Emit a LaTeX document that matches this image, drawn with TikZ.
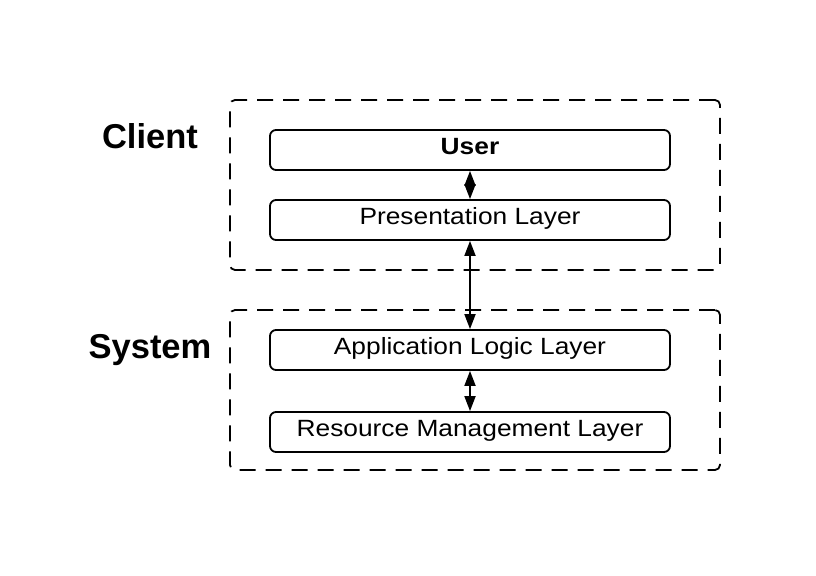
\documentclass[tikz,border=0pt]{standalone}
\usepackage{fontspec}
\setmainfont{Liberation Sans}
\newfontfamily\boxfont[FakeStretch=1.12]{Liberation Sans}
\usetikzlibrary{arrows.meta}

\begin{document}
\begin{tikzpicture}[x=1bp, y=-1bp,
	every node/.style={inner sep=0pt},
	frame/.style={draw=black, line width=1.8bp, dash pattern=on 16bp off 10bp, rounded corners=5bp, minimum width=490bp, minimum height=170bp},
	layer/.style={draw=black, line width=1.8bp, rounded corners=6bp, minimum width=400bp, minimum height=40bp, font=\boxfont\fontsize{23.5bp}{26bp}\selectfont, text height=1.1em, text depth=0.25em},
	grp/.style={font=\fontsize{34.5bp}{38bp}\selectfont\bfseries, anchor=base},
	link/.style={draw=black, line width=1.8bp, {Triangle[length=15bp,width=11bp]}-{Triangle[length=15bp,width=11bp]}}]
	\useasboundingbox (0,0) rectangle (816,576);
	\node[frame] (cframe) at (475,185) {};
	\node[frame, minimum height=160bp] (sframe) at (475,390) {};
	\node[grp] (client) at (150,149) {Client};
	\node[grp] (system) at (150,358) {System};
	
	\node[layer] (user) at (470,150) {\bfseries User};
	\node[layer] (pres) at (470,220) {Presentation Layer};
	\node[layer] (app) at (470,350) {Application Logic Layer};
	\node[layer] (res) at (470,432) {Resource Management Layer};
	
	\path[link] (user) -- (pres);
	\path[link] (pres) -- (app);
	\path[link] (app) -- (res);
\end{tikzpicture}
\end{document}
